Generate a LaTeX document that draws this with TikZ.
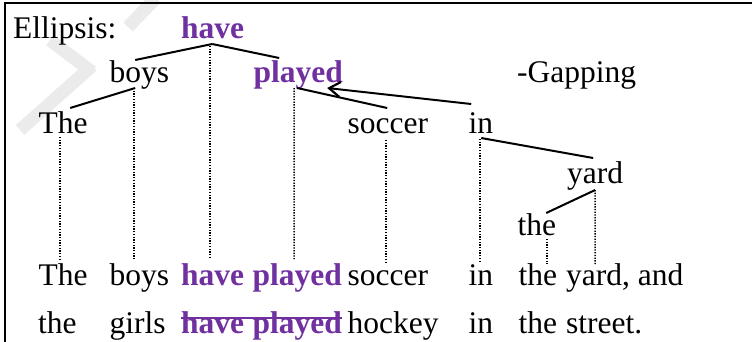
\documentclass[tikz,border=0pt]{standalone}
\usepackage{fontspec}
\setmainfont{Liberation Serif}
\usetikzlibrary{arrows.meta}
\definecolor{ellpurple}{HTML}{7030A0}
\begin{document}
\begin{tikzpicture}[x=1bp,y=-1bp,
  word/.style={anchor=base west,inner sep=0pt,font=\fontsize{31.5bp}{36bp}\selectfont},
  key/.style={word,text=ellpurple,font=\fontsize{31.5bp}{36bp}\selectfont\bfseries},
  branch/.style={line width=2bp},
  trace/.style={line width=1.5bp,dash pattern=on 1.3bp off 1.4bp},
  wm/.style={line width=13bp,draw=black!8,line cap=butt}
]
\useasboundingbox (0,0) rectangle (752,341);

% faint watermark strokes
\draw[wm] (20,130) -- (92,66);
\draw[wm] (50,40) -- (92,72);
\draw[wm] (128,27) -- (156,-2);

% frame
\draw[line width=2.2bp] (5,345) -- (5,3) -- (755,3);

% tree
\node[word] (ell) at (13,38) {Ellipsis:};
\node[key] (have) at (181,38) {have};
\node[word] (boys) at (109.5,82) {boys};
\node[key] (played) at (253.5,82) {played};
\node[word] (gap) at (517,82) {-Gapping};
\node[word] (the) at (38.5,133) {The};
\node[word] (soccer) at (347.5,133) {soccer};
\node[word] (in) at (468.5,133) {in};
\node[word] (yard) at (567,183) {yard};
\node[word] (det) at (517.5,235) {the};

% first clause
\node[word] (the5) at (38.5,285) {The};
\node[word] (boys5) at (109.5,285) {boys};
\node[key] (have5) at (181,285) {have};
\node[key] (played5) at (252.4,285) {played};
\node[word] (soccer5) at (347.5,285) {soccer};
\node[word] (in5) at (468.5,285) {in};
\node[word] (det5) at (518.5,285) {the};
\node[word] (yard5) at (566,285) {yard, and};

% second clause
\node[word] (the6) at (38,333) {the};
\node[word] (girls6) at (109.5,333) {girls};
\node[key] (have6) at (181,333) {have};
\node[key] (played6) at (252.4,333) {played};
\node[word] (hockey6) at (347.5,333) {hockey};
\node[word] (in6) at (468.5,333) {in};
\node[word] (det6) at (518.5,333) {the};
\node[word] (street6) at (566,333) {street.};

% strike-through of the gapped words
\draw[ellpurple,line width=2.2bp] ([yshift=15bp]have6.base west) -- ([yshift=15bp]played6.base east);

% branches
\draw[branch] ([shift={(-0.5,6)}]have.base) -- ([shift={(-4.25,-22)}]boys.base);
\draw[branch] ([shift={(-0.5,6)}]have.base) -- ([shift={(-19.15,-24)}]played.base);
\draw[branch] ([shift={(-4.25,6)}]boys.base) -- ([shift={(7,-25)}]the.base);
\draw[branch] ([shift={(-1.15,6)}]played.base) -- ([shift={(-0.7,-25)}]soccer.base);
\draw[branch] ([shift={(0.25,5)}]in.base) -- ([shift={(-2,-25)}]yard.base);
\draw[branch] ([shift={(0,7)}]yard.base) -- ([shift={(9.25,-22)}]det.base);
\draw[branch,-{Straight Barb[length=11bp,width=15bp,line width=2.2bp]}]
  ([shift={(-9.75,-29)}]in.base) -- ([shift={(28.85,6)}]played.base);

% projection lines
\draw[trace] ([shift={(-3,4)}]the.base) -- ([shift={(-3,-24)}]the5.base);
\draw[trace] ([shift={(-5.25,6)}]boys.base) -- ([shift={(-5.25,-26)}]boys5.base);
\draw[trace] ([shift={(-2.5,8)}]have.base) -- ([shift={(-2.5,-26)}]have5.base);
\draw[trace] ([shift={(-4.15,6)}]played.base) -- ([shift={(-3.05,-26)}]played5.base);
\draw[trace] ([shift={(-1.7,7)}]soccer.base) -- ([shift={(-1.7,-23)}]soccer5.base);
\draw[trace] ([shift={(-0.75,6)}]in.base) -- ([shift={(-0.75,-23)}]in5.base);
\draw[trace] ([shift={(10.25,4)}]det.base) -- ([shift={(9.25,-21)}]det5.base);
\draw[trace] ([shift={(0,7)}]yard.base) -- ([shift={(-29.6,-21)}]yard5.base);
\end{tikzpicture}
\end{document}
